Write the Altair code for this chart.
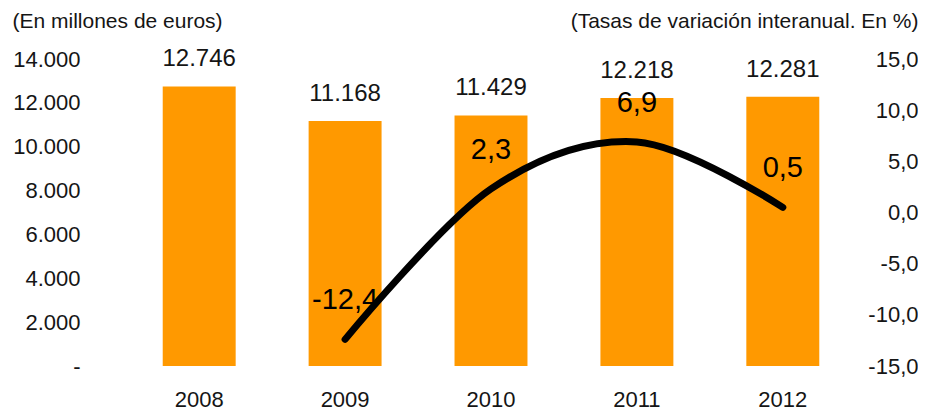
import altair as alt
import pandas as pd

years = ["2008", "2009", "2010", "2011", "2012"]
sales = [12746, 11168, 11429, 12218, 12281]
rates = [None, -12.4, 2.3, 6.9, 0.5]

df = pd.DataFrame({"year": years, "sales": sales, "rate": rates})

FONT = "Liberation Sans"
ORANGE = "#FF9900"
TXT = "#151515"

x = alt.X("year:N", title=None,
          scale=alt.Scale(paddingInner=0.5, paddingOuter=0.19),
          axis=alt.Axis(labelAngle=0, domain=False, ticks=False, grid=False,
                        labelFontSize=22, labelPadding=33, labelBaseline="middle",
                        labelColor=TXT, labelFont=FONT))

yl = alt.Y("sales:Q", title="(En millones de euros)",
           scale=alt.Scale(domain=[0, 14000], nice=False, zero=True),
           axis=alt.Axis(values=[0, 2000, 4000, 6000, 8000, 10000, 12000, 14000],
                         labelExpr="datum.value < 1 ? '-' : replace(format(datum.value, ',d'), ',', '.')",
                         domain=False, ticks=False, grid=False, labelOverlap=False,
                         labelFontSize=22, labelPadding=55, labelColor=TXT, labelFont=FONT,
                         titleAngle=0, titleAlign="left", titleBaseline="middle",
                         titleX=-123, titleY=-38, titleFontSize=21, titleFontWeight="normal",
                         titleColor=TXT, titleFont=FONT))

bars = alt.Chart(df).mark_bar(color=ORANGE).encode(x=x, y=yl)

bar_text = alt.Chart(df).transform_calculate(
    lab="replace(format(datum.sales, ',d'), ',', '.')"
).mark_text(font=FONT, fontSize=24, color=TXT, baseline="middle", dy=-27).encode(
    x=alt.X("year:N"), y=alt.Y("sales:Q"), text="lab:N")

left = alt.layer(bars, bar_text)

yr = alt.Y("rate:Q", title="(Tasas de variación interanual. En %)",
           scale=alt.Scale(domain=[-15, 15], nice=False, zero=False),
           axis=alt.Axis(orient="right", values=[-15, -10, -5, 0, 5, 10, 15],
                         labelExpr="replace(replace(format(datum.value, '.1f'), '.', ','), '\u2212', '-')",
                         domain=False, ticks=False, grid=False, labelOverlap=False,
                         labelFontSize=22, labelPadding=71, labelAlign="right",
                         labelColor=TXT, labelFont=FONT,
                         titleAngle=0, titleAlign="right", titleBaseline="middle",
                         titleX=71, titleY=-38, titleFontSize=21, titleFontWeight="normal",
                         titleColor=TXT, titleFont=FONT))

line_df = df.dropna(subset=["rate"])
line = alt.Chart(line_df).mark_line(color="black", strokeWidth=7, interpolate="cardinal",
                                    strokeCap="round", strokeJoin="round").encode(
    x=alt.X("year:N"), y=yr)

line_text = alt.Chart(line_df).transform_calculate(
    lab="replace(replace(format(datum.rate, '.1f'), '.', ','), '\u2212', '-')"
).mark_text(font=FONT, fontSize=29, color="black", baseline="middle", dy=-39).encode(
    x=alt.X("year:N"), y=alt.Y("rate:Q"), text="lab:N")

right = alt.layer(line, line_text)

chart = alt.layer(left, right).resolve_scale(y="independent").properties(
    width=712, height=307,
    background="white",
    autosize=alt.AutoSizeParams(type="none"),
    padding={"left": 127, "top": 51, "right": 71, "bottom": 46},
).configure_view(strokeWidth=0).configure_axis(grid=False)

chart.save("out.html", embed_options={"renderer": "svg", "actions": False})
